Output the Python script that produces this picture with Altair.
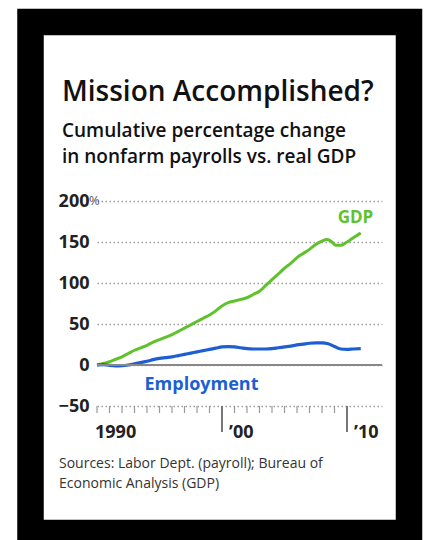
import altair as alt
import pandas as pd

# ---- data ----
gdp_years = [1990, 1990.5, 1991, 1991.5, 1992, 1992.5, 1993, 1993.5, 1994, 1994.5,
             1995, 1995.5, 1996, 1996.5, 1997, 1997.5, 1998, 1998.5, 1999, 1999.5,
             2000, 2000.5, 2001, 2001.5, 2002, 2002.5, 2003, 2003.5, 2004, 2004.5,
             2005, 2005.5, 2006, 2006.5, 2007, 2007.5, 2008, 2008.4, 2008.8, 2009.1,
             2009.5, 2009.9, 2010.3, 2010.7, 2011.1]
gdp_values = [0, 2, 4, 7, 10, 14, 18, 21, 24, 28,
              31, 34, 37, 41, 45, 49, 53, 57, 61, 66,
              72, 76, 78, 80, 82, 86, 90, 97, 104, 111,
              118, 124, 131, 136, 141, 147, 151, 153, 150, 146,
              146, 149, 153, 157, 161]

emp_years = [1990, 1990.5, 1991, 1991.5, 1992, 1992.5, 1993, 1993.5, 1994, 1994.5,
             1995, 1995.5, 1996, 1996.5, 1997, 1997.5, 1998, 1998.5, 1999, 1999.5,
             2000, 2000.5, 2001, 2001.5, 2002, 2002.5, 2003, 2003.5, 2004, 2004.5,
             2005, 2005.5, 2006, 2006.5, 2007, 2007.5, 2008, 2008.5, 2009, 2009.5,
             2010, 2010.5, 2011.1]
emp_values = [0, 0.5, -0.5, -1, -0.8, 0, 1.5, 3, 4.5, 6.5,
              8, 9, 10, 11.5, 13, 14.5, 16, 17.5, 19, 20.5,
              22, 22.5, 22, 21, 20, 19.5, 19.5, 19.5, 20, 21,
              22, 23, 24.5, 25.5, 26.5, 27, 27, 26, 22.5, 19.5,
              19, 19.5, 20]

y_ticks = [-50, 0, 50, 100, 150, 200]
small_tick_years = list(range(1990, 2010))
big_tick_years = [2000, 2010]
first_label_year = [1990]
first_label_text = ["1990"]
decade_label_years = [2000, 2010]
decade_label_texts = ["\u201900", "\u201910"]

title_text = "Mission Accomplished?"
subtitle_lines = ["Cumulative percentage change", "in nonfarm payrolls vs. real GDP"]
source_lines = ["Sources: Labor Dept. (payroll); Bureau of", "Economic Analysis (GDP)"]

GREEN = "#5fc22c"
BLUE = "#1d5fd3"
FONT = "Open Sans"

W, H = 285, 205
X_DOMAIN = [1990, 2012.8]
Y_DOMAIN = [-50, 200]

gdp_df = pd.DataFrame({"year": gdp_years, "value": gdp_values})
emp_df = pd.DataFrame({"year": emp_years, "value": emp_values})
one = pd.DataFrame({"k": [0]})

xscale = alt.Scale(domain=X_DOMAIN, nice=False, zero=False)
yscale = alt.Scale(domain=Y_DOMAIN, nice=False, zero=False)

y_axis = alt.Axis(
    values=y_ticks, title=None, domain=False, ticks=False,
    grid=True, gridColor="#9a9a9a", gridDash=[1.5, 2.5], gridWidth=1.5,
    labelFont=FONT, labelFontSize=18, labelFontWeight="bold", labelColor="#222222",
    labelPadding=8, labelExpr="datum.value < 0 ? '\u2212' + abs(datum.value) : datum.value",
)

gdp_line = alt.Chart(gdp_df).mark_line(color=GREEN, strokeWidth=3, interpolate="monotone").encode(
    x=alt.X("year:Q", scale=xscale, axis=None),
    y=alt.Y("value:Q", scale=yscale, axis=y_axis),
)
emp_line = alt.Chart(emp_df).mark_line(color=BLUE, strokeWidth=3.2, interpolate="monotone").encode(
    x=alt.X("year:Q", axis=None),
    y=alt.Y("value:Q", axis=y_axis),
)

zero_rule = alt.Chart(one).mark_rule(color="#888888", strokeWidth=2).encode(
    y=alt.datum(0)
)

small_ticks = alt.Chart(pd.DataFrame({"year": small_tick_years})).mark_rule(
    color="#9a9a9a", strokeWidth=1.2
).encode(
    x=alt.X("year:Q", axis=None),
    y=alt.value(H), y2=alt.value(H + 7),
)

big_ticks = alt.Chart(pd.DataFrame({"year": big_tick_years})).mark_rule(
    color="#777777", strokeWidth=2
).encode(
    x=alt.X("year:Q", axis=None),
    y=alt.value(H), y2=alt.value(H + 26),
)

first_label = alt.Chart(pd.DataFrame({"year": first_label_year, "label": first_label_text})).mark_text(
    align="left", baseline="top", font=FONT, fontSize=18, fontWeight="bold",
    color="#222222", dx=-2
).encode(x=alt.X("year:Q", axis=None), y=alt.value(H + 18), text="label:N")

decade_labels = alt.Chart(pd.DataFrame({"year": decade_label_years, "label": decade_label_texts})).mark_text(
    align="left", baseline="top", font=FONT, fontSize=18, fontWeight="bold",
    color="#222222", dx=7
).encode(x=alt.X("year:Q", axis=None), y=alt.value(H + 18), text="label:N")

pct = alt.Chart(one).mark_text(
    text="%", align="left", baseline="middle", font=FONT, fontSize=13, color="#555555", dx=-8
).encode(x=alt.value(0), y=alt.datum(200))

gdp_label = alt.Chart(one).mark_text(
    text="GDP", align="right", baseline="middle", font=FONT, fontSize=17,
    fontWeight="bold", color=GREEN
).encode(x=alt.datum(2012.1), y=alt.datum(179))

emp_label = alt.Chart(one).mark_text(
    text="Employment", align="left", baseline="middle", font=FONT, fontSize=18,
    fontWeight="bold", color=BLUE
).encode(x=alt.datum(1993.8), y=alt.datum(-24))

title = alt.Chart(one).mark_text(
    text=title_text, align="left", baseline="alphabetic", font=FONT, fontSize=28,
    fontWeight=600, color="#111111"
).encode(x=alt.value(-35), y=alt.value(-100))

sub1 = alt.Chart(one).mark_text(
    text=subtitle_lines[0], align="left", baseline="alphabetic", font=FONT, fontSize=19,
    fontWeight=600, color="#111111"
).encode(x=alt.value(-35), y=alt.value(-64))
sub2 = alt.Chart(one).mark_text(
    text=subtitle_lines[1], align="left", baseline="alphabetic", font=FONT, fontSize=19,
    fontWeight=600, color="#111111"
).encode(x=alt.value(-35), y=alt.value(-38))

src1 = alt.Chart(one).mark_text(
    text=source_lines[0], align="left", baseline="alphabetic", font=FONT, fontSize=14,
    color="#333333"
).encode(x=alt.value(-38), y=alt.value(267))
src2 = alt.Chart(one).mark_text(
    text=source_lines[1], align="left", baseline="alphabetic", font=FONT, fontSize=14,
    color="#333333"
).encode(x=alt.value(-38), y=alt.value(287))

frame = alt.Chart(one).mark_rect(
    filled=False, stroke="black", strokeWidth=26.5
).encode(
    x=alt.value(-66.5), x2=alt.value(312), y=alt.value(-179), y2=alt.value(332)
)

chart = alt.layer(
    gdp_line, emp_line, zero_rule, small_ticks, big_ticks, first_label, decade_labels,
    pct, gdp_label, emp_label, title, sub1, sub2, src1, src2, frame
).properties(
    width=W, height=H,
    autosize=alt.AutoSizeParams(type="none"),
    padding={"left": 97, "top": 201, "right": 45, "bottom": 134},
    background="white",
).configure_view(strokeWidth=0)

chart.save("out.html", embed_options={"renderer": "svg", "actions": False})
